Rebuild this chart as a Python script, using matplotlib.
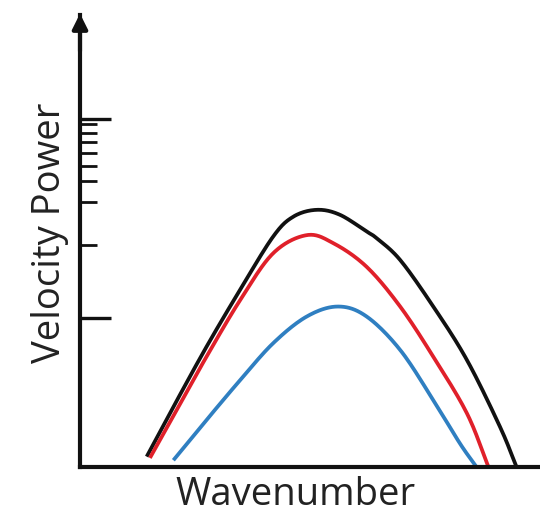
import matplotlib.pyplot as plt
import numpy as np

# Spectra (arbitrary units: wavenumber 0-10, power 0-10)
black_k = [1.45, 2.03, 2.75, 3.48, 4.20, 4.64, 5.15, 5.65, 6.23, 6.45, 6.96, 7.68, 8.41, 9.13, 9.49]
black_p = [0.23, 1.33, 2.66, 3.92, 5.10, 5.54, 5.69, 5.58, 5.21, 5.06, 4.58, 3.55, 2.37, 0.89, 0.00]

red_k = [1.52, 2.10, 2.75, 3.48, 4.20, 4.93, 5.51, 6.23, 6.96, 7.68, 8.41, 8.88]
red_p = [0.20, 1.26, 2.44, 3.69, 4.73, 5.13, 4.95, 4.43, 3.55, 2.44, 1.19, 0.00]

blue_k = [2.03, 2.75, 3.48, 4.20, 4.93, 5.61, 6.23, 6.96, 7.68, 8.26, 8.62]
blue_p = [0.15, 1.04, 1.92, 2.74, 3.33, 3.55, 3.33, 2.59, 1.48, 0.52, 0.00]

major_ticks = [3.30, 7.70]
minor_ticks = [4.91, 5.86, 6.33, 6.66, 6.95, 7.19, 7.39, 7.59]

x_label = "Wavenumber"
y_label = "Velocity Power"


def smooth(xs, ys, n=20):
    """Catmull-Rom curve through the given points."""
    pts = np.column_stack([xs, ys]).astype(float)
    pts = np.vstack([2 * pts[0] - pts[1], pts, 2 * pts[-1] - pts[-2]])
    out = []
    t = np.linspace(0, 1, n, endpoint=False)[:, None]
    for i in range(1, len(pts) - 2):
        p0, p1, p2, p3 = pts[i - 1], pts[i], pts[i + 1], pts[i + 2]
        seg = 0.5 * ((2 * p1) + (-p0 + p2) * t + (2 * p0 - 5 * p1 + 4 * p2 - p3) * t ** 2
                     + (-p0 + 3 * p1 - 3 * p2 + p3) * t ** 3)
        out.append(seg)
    out.append(pts[-2][None, :])
    out = np.vstack(out)
    return out[:, 0], out[:, 1]


fig = plt.figure(figsize=(5.4, 5.17), dpi=100)
ax = fig.add_axes([80 / 540, 50 / 517, 460 / 540, 452 / 517])
ax.set_xlim(0, 10)
ax.set_ylim(0, 10)

for k, p, c in [(black_k, black_p, "#111111"),
                (red_k, red_p, "#e0202a"),
                (blue_k, blue_p, "#2f7fc1")]:
    xs, ys = smooth(k, p)
    ax.plot(xs, ys, color=c, lw=2.7, solid_capstyle="butt", clip_on=False)

for s in ["top", "right"]:
    ax.spines[s].set_visible(False)
for s in ["left", "bottom"]:
    ax.spines[s].set_linewidth(3.0)
    ax.spines[s].set_color("#111111")

ax.set_xticks([])
ax.set_yticks(major_ticks)
ax.set_yticks(minor_ticks, minor=True)
ax.tick_params(axis="y", which="major", direction="in", length=22, width=2.4,
               color="#111111", labelleft=False)
ax.tick_params(axis="y", which="minor", direction="in", length=12, width=2.0,
               color="#111111", labelleft=False)

# Arrow head on the vertical axis
ax.annotate("", xy=(0, 10.03), xytext=(0, 9.2), xycoords="data",
            arrowprops=dict(arrowstyle="-|>,head_length=0.9,head_width=0.45",
                            color="#111111", lw=3.0, shrinkA=0, shrinkB=0),
            annotation_clip=False)

font = dict(family="Open Sans", fontsize=27.5, color="#222222")
fig.text(295 / 540, 1 - 495 / 517, x_label, ha="center", va="center", **font)
fig.text(50 / 540, 1 - 233 / 517, y_label, ha="center", va="center",
         rotation=90, **font)

fig.savefig("out.png", dpi=100)
